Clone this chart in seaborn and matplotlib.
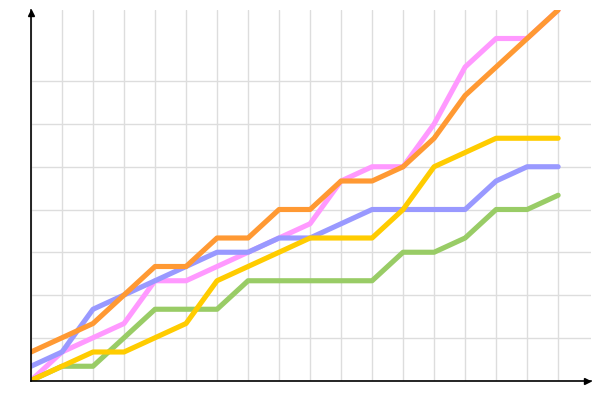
import pandas as pd
import matplotlib
matplotlib.use("Agg")
import matplotlib.pyplot as plt
import seaborn as sns

# valeurs cumulées (x = 0..17)
x_vals = list(range(18))
pink = [0, 2, 3, 4, 7, 7, 8, 9, 10, 11, 14, 15, 15, 18, 22, 24, 24, 26]
blue = [1, 2, 5, 6, 7, 8, 9, 9, 10, 10, 11, 12, 12, 12, 12, 14, 15, 15]
green = [0, 1, 1, 3, 5, 5, 5, 7, 7, 7, 7, 7, 9, 9, 10, 12, 12, 13]
yellow = [0, 1, 2, 2, 3, 4, 7, 8, 9, 10, 10, 10, 12, 15, 16, 17, 17, 17]
orange = [2, 3, 4, 6, 8, 8, 10, 10, 12, 12, 14, 14, 15, 17, 20, 22, 24, 26]

series_names = ["pink", "blue", "green", "yellow", "orange"]
colors = ["#ff99ff", "#9999ff", "#99cc66", "#ffcc00", "#ff9933"]

rows = []
for name, vals in zip(series_names, [pink, blue, green, yellow, orange]):
    for xv, yv in zip(x_vals, vals):
        rows.append({"x": xv, "y": yv, "serie": name})
df = pd.DataFrame(rows)

sns.set_style("white")
fig = plt.figure(figsize=(6, 4), dpi=100)
ax = fig.add_axes([31 / 600, 19.5 / 400, 560 / 600, 370.5 / 400])

sns.lineplot(data=df, x="x", y="y", hue="serie", hue_order=series_names,
             palette=colors, linewidth=3.7, legend=False, ax=ax)

ax.set_xlim(0, 18.06)
ax.set_ylim(0, 26)
ax.set_xticks(range(0, 18))
ax.set_yticks(range(0, 22, 3))
ax.grid(True, color="#dddddd", linewidth=1)
ax.set_axisbelow(True)
ax.tick_params(length=0, labelbottom=False, labelleft=False)
ax.set_xlabel("")
ax.set_ylabel("")

for side in ["top", "right"]:
    ax.spines[side].set_visible(False)
for side in ["left", "bottom"]:
    ax.spines[side].set_color("black")
    ax.spines[side].set_linewidth(1.2)

# petites flèches au bout des axes
ax.plot(0, 0.992, marker="^", color="black", markersize=4,
        transform=ax.transAxes, clip_on=False)
ax.plot(0.992, 0, marker=">", color="black", markersize=4,
        transform=ax.transAxes, clip_on=False)

fig.savefig("out.png", dpi=100)
plt.close(fig)
